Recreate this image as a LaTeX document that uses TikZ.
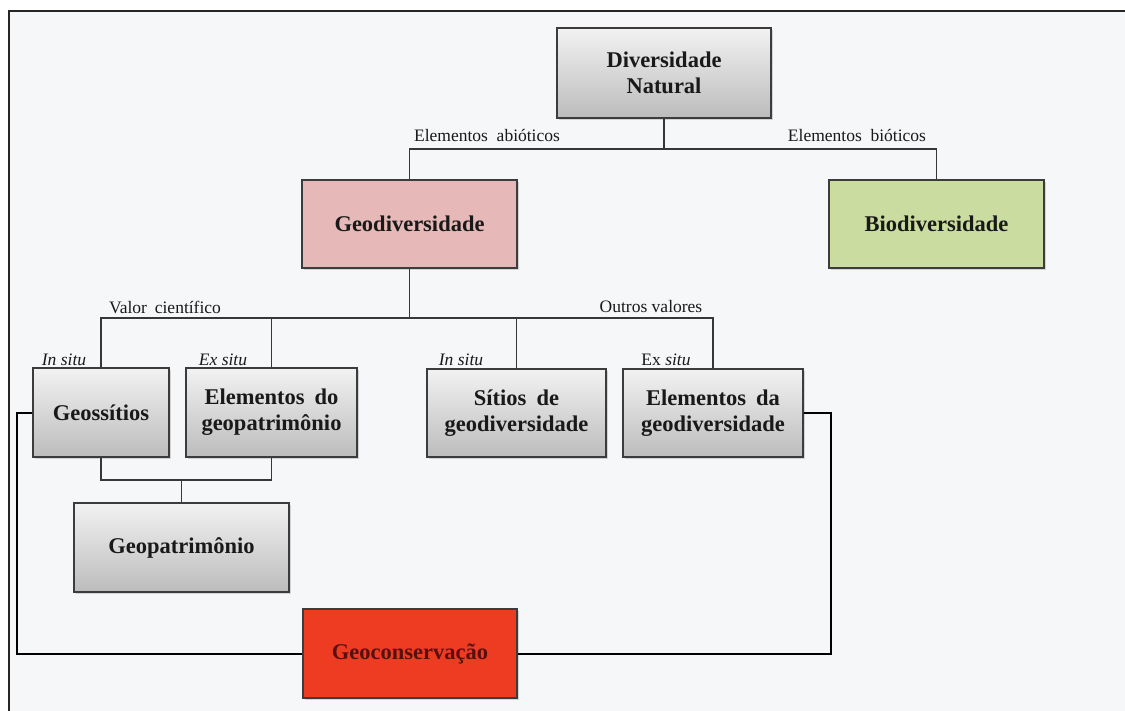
\documentclass[tikz,border=0pt]{standalone}
\usepackage{fontspec}
\setmainfont{Liberation Serif}
\usetikzlibrary{shadows}
\definecolor{bgpanel}{RGB}{246,247,248}
\definecolor{boxtop}{RGB}{242,242,242}
\definecolor{boxbot}{RGB}{188,188,188}
\definecolor{boxline}{RGB}{60,60,60}
\definecolor{geofill}{RGB}{230,184,184}
\definecolor{biofill}{RGB}{202,220,160}
\definecolor{consfill}{RGB}{238,60,35}
\definecolor{constext}{RGB}{90,15,15}
\definecolor{txt}{RGB}{25,25,25}
\definecolor{treeline}{RGB}{55,55,55}
\begin{document}
\begin{tikzpicture}[x=1pt,y=-1pt,
  basebox/.style={draw=boxline, line width=1.3pt, inner sep=0pt, align=center,
    text=txt, font=\fontsize{22.5}{26}\selectfont\bfseries,
    drop shadow={shadow xshift=1.5pt, shadow yshift=-2pt, opacity=0.3}},
  graybox/.style={basebox, top color=boxtop, bottom color=boxbot},
  lbl/.style={inner sep=0pt, text=txt, font=\fontsize{17.5}{20}\selectfont},
  tree/.style={draw=treeline, line width=1.2pt},
  loopline/.style={draw=black, line width=2pt}
]
\useasboundingbox (0,0) rectangle (1125,711);
\fill[white] (0,0) rectangle (1125,711);
\fill[bgpanel] (9,11) rectangle (1125,711);
\draw[line width=2.2pt, black!85] (9,711) -- (9,11) -- (1125,11);

% boxes
\node[graybox, minimum width=214, minimum height=90] (div) at (664,73) {Diversidade\\Natural};
\node[basebox, fill=geofill, minimum width=215, minimum height=88] (geo) at (409.5,224) {Geodiversidade};
\node[basebox, fill=biofill, minimum width=215, minimum height=88] (bio) at (936.5,224) {Biodiversidade};
\node[graybox, minimum width=136, minimum height=89] (geos) at (101,412.5) {Geossítios};
\node[graybox, minimum width=171, minimum height=89] (elgeo) at (271.5,412.5) {Elementos\hspace{0.45em}do\\geopatrimônio};
\node[graybox, minimum width=179, minimum height=88] (sit) at (516.5,413) {Sítios\hspace{0.45em}de\\geodiversidade};
\node[graybox, minimum width=180, minimum height=88] (elda) at (713,413) {Elementos\hspace{0.45em}da\\geodiversidade};
\node[graybox, minimum width=215, minimum height=89] (geop) at (181.5,547.5) {Geopatrimônio};
\node[basebox, fill=consfill, text=constext, minimum width=214, minimum height=89] (cons) at (410,653.5) {Geoconservação};

% junction coordinates
\coordinate (h1) at (0,149);
\coordinate (h2) at (0,318);
\coordinate (h3) at (0,480);
\coordinate (vl) at (17,0);
\coordinate (vr) at (831,0);

% tree connectors
\draw[tree] (div.south) -- (div.south |- h1);
\draw[tree] (geo.north) -- (geo.north |- h1) -- (bio.north |- h1) -- (bio.north);
\draw[tree] (geo.south) -- (geo.south |- h2);
\draw[tree] (geos.north) -- (geos.north |- h2) -- (elda.north |- h2) -- (elda.north);
\draw[tree] (elgeo.north) -- (elgeo.north |- h2);
\draw[tree] (sit.north) -- (sit.north |- h2);
\draw[tree] (geos.south) -- (geos.south |- h3) -- (elgeo.south |- h3) -- (elgeo.south);
\draw[tree] (geop.north) -- (geop.north |- h3);

% conservation loop
\draw[loopline] (geos.west) -- (geos.west -| vl) -- (cons.west -| vl) -- (cons.west);
\draw[loopline] (elda.east) -- (elda.east -| vr) -- (cons.east -| vr) -- (cons.east);

% labels
\node[lbl] (la) at (487,136) {Elementos\hspace{0.5em}abióticos};
\node[lbl] (lb) at (857,136) {Elementos\hspace{0.5em}bióticos};
\node[lbl] (lc) at (165,307) {Valor\hspace{0.45em}científico};
\node[lbl] (ld) at (651,307) {Outros valores};
\node[lbl] (le) at (64,360) {\textit{In situ}};
\node[lbl] (lf) at (223,360) {\textit{Ex situ}};
\node[lbl] (lg) at (461,360) {\textit{In situ}};
\node[lbl] (lh) at (666,360) {Ex \textit{situ}};
\end{tikzpicture}
\end{document}
